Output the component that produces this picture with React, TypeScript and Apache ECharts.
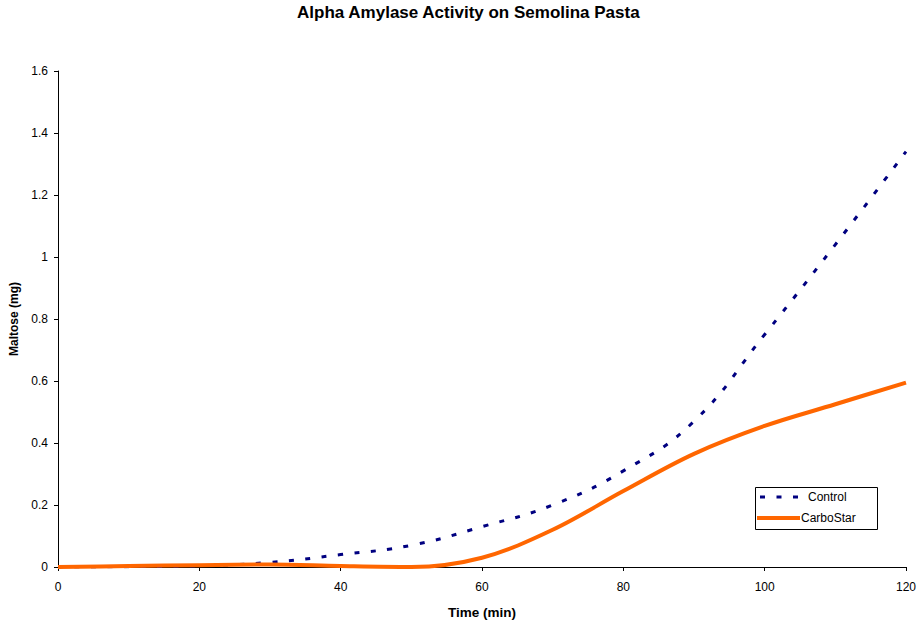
import React, { useEffect, useRef } from "react";
import * as echarts from "echarts";

const times = [0, 10, 20, 30, 40, 50, 60, 70, 80, 90, 100, 110, 120];
const controlValues = [0, 0.001, 0.004, 0.015, 0.04, 0.07, 0.13, 0.2, 0.31, 0.47, 0.75, 1.04, 1.34];
const carboStarValues = [0, 0.003, 0.006, 0.008, 0.003, 0, 0.03, 0.12, 0.245, 0.365, 0.455, 0.525, 0.595];
const seriesNames = ["Control", "CarboStar"];
const seriesColors = ["#000080", "#FF6600"];

export default function App() {
  const ref = useRef<HTMLDivElement>(null);
  useEffect(() => {
    if (!ref.current) return;
    const chart = echarts.init(ref.current, null, { renderer: "svg" });
    const font = "'Liberation Sans', Arial, sans-serif";
    chart.setOption({
      animation: false,
      backgroundColor: "#fff",
      textStyle: { fontFamily: font },
      title: {
        text: "Alpha Amylase Activity on Semolina Pasta",
        left: 297,
        top: 4,
        padding: 0,
        textStyle: { fontFamily: font, fontSize: 17, fontWeight: "bold", color: "#000" },
      },
      grid: { left: 57, right: 13, top: 71, bottom: 53, containLabel: false },
      legend: { show: false },
      graphic: [
        {
          type: "rect",
          shape: { x: 755.5, y: 487.5, width: 122, height: 42 },
          style: { fill: "#fff", stroke: "#000", lineWidth: 1 },
          z: 10,
        },
        {
          type: "line",
          shape: { x1: 760, y1: 497, x2: 800, y2: 497 },
          style: { stroke: seriesColors[0], lineWidth: 3, lineDash: [5, 11.5] },
          z: 11,
        },
        {
          type: "text",
          x: 808,
          y: 497,
          style: { text: seriesNames[0], font: `12px ${font}`, fill: "#000", verticalAlign: "middle" },
          z: 11,
        },
        {
          type: "line",
          shape: { x1: 757, y1: 518, x2: 800, y2: 518 },
          style: { stroke: seriesColors[1], lineWidth: 4 },
          z: 11,
        },
        {
          type: "text",
          x: 801,
          y: 518,
          style: { text: seriesNames[1], font: `12px ${font}`, fill: "#000", verticalAlign: "middle" },
          z: 11,
        },
      ],
      xAxis: {
        type: "value",
        min: 0,
        max: 120,
        interval: 20,
        name: "Time (min)",
        nameLocation: "middle",
        nameGap: 38,
        nameTextStyle: { fontFamily: font, fontSize: 13.5, fontWeight: "bold", color: "#000" },
        axisLine: { lineStyle: { color: "#000", width: 1 } },
        axisTick: { show: true, length: 4, inside: false, lineStyle: { color: "#000" } },
        axisLabel: { fontFamily: font, fontSize: 12, color: "#000", margin: 14 },
        splitLine: { show: false },
      },
      yAxis: {
        type: "value",
        min: 0,
        max: 1.6,
        interval: 0.2,
        name: "Maltose (mg)",
        nameLocation: "middle",
        nameGap: 38,
        nameRotate: 90,
        nameTextStyle: { fontFamily: font, fontSize: 12, fontWeight: "bold", color: "#000" },
        axisLine: { show: true, lineStyle: { color: "#000", width: 1 } },
        axisTick: { show: true, length: 4, lineStyle: { color: "#000" } },
        axisLabel: {
          fontFamily: font,
          fontSize: 12,
          color: "#000",
          margin: 10,
          formatter: (v: number) => String(Math.round(v * 10) / 10),
        },
        splitLine: { show: false },
      },
      series: [
        {
          name: seriesNames[0],
          type: "line",
          smooth: 0.45,
          symbol: "none",
          color: seriesColors[0],
          lineStyle: { color: seriesColors[0], width: 3, type: [5, 11.5] },
          data: times.map((t, i) => [t, controlValues[i]]),
        },
        {
          name: seriesNames[1],
          type: "line",
          smooth: 0.35,
          symbol: "none",
          color: seriesColors[1],
          lineStyle: { color: seriesColors[1], width: 4 },
          data: times.map((t, i) => [t, carboStarValues[i]]),
        },
      ],
    });
    return () => chart.dispose();
  }, []);
  return <div ref={ref} style={{ position: "absolute", left: 0, top: 0, width: 919, height: 624 }} />;
}
